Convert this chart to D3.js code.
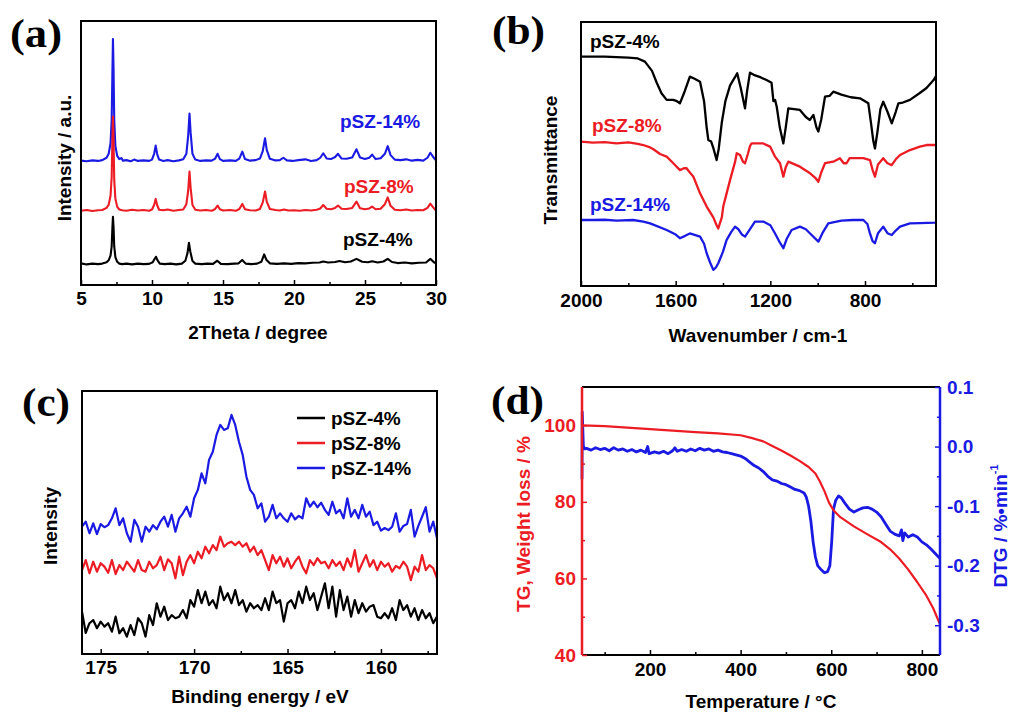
<!DOCTYPE html>
<html>
<head>
<meta charset="utf-8">
<script src="https://cdn.jsdelivr.net/npm/d3@7"></script>
<style>
body { margin: 0; background: #fff; }
</style>
</head>
<body>
<svg id="fig" width="1011" height="715"></svg>
<script>
// ---------- (a) XRD, relative intensity per sample ----------
const xrdOffsets = [7.6, 27.8, 46.7];   // black, red, blue stacking
const xrdBlack = [[5,0.6],[5.4,0.2],[5.8,0.5],[6.2,0.3],[6.5,0.5],[6.8,1.0],[6.95,1.8],[7.08,3.5],[7.16,7],[7.21,14],[7.25,18.2],[7.29,14.5],[7.34,7],[7.42,3],[7.55,1.2],[7.7,0.5],[7.9,0.3],[8.2,0.5],[8.6,0.2],[9.0,0.5],[9.4,0.3],[9.8,0.4],[10.05,1],[10.2,2.4],[10.28,3.1],[10.38,1.8],[10.55,0.5],[10.9,0.3],[11.3,0.5],[11.7,0.2],[12.1,0.5],[12.35,1.6],[12.5,4.5],[12.6,8.4],[12.7,5],[12.85,1.5],[13.05,0.5],[13.5,0.3],[13.9,0.5],[14.3,0.4],[14.6,1.6],[14.85,0.4],[15.3,0.3],[15.8,0.5],[16.1,0.6],[16.35,1.9],[16.6,0.5],[17.0,0.3],[17.4,0.5],[17.7,1.2],[17.9,4.0],[18.05,2],[18.3,0.6],[18.8,0.4],[19.3,0.6],[19.8,0.4],[20.3,0.7],[20.8,0.6],[21.3,0.8],[21.8,0.9],[22.06,1.3],[22.4,0.9],[22.9,1.1],[23.2,1.5],[23.6,1.0],[24.0,1.3],[24.4,2.3],[24.8,1.2],[25.2,1.0],[25.5,1.4],[25.9,0.9],[26.3,1.3],[26.6,2.3],[26.9,1.1],[27.3,0.7],[27.8,0.9],[28.3,0.6],[28.8,0.8],[29.3,0.9],[29.6,2.3],[29.85,1.0],[30.0,0.6]];
const xrdRed = [[5,0.3],[5.4,0.6],[5.8,0.2],[6.2,0.5],[6.5,0.6],[6.8,1.4],[6.95,2.6],[7.08,6],[7.16,13],[7.21,27],[7.25,36],[7.29,28],[7.34,12],[7.42,5],[7.55,1.8],[7.7,0.8],[7.9,0.5],[8.2,0.3],[8.6,0.7],[9.0,0.4],[9.4,0.6],[9.8,0.3],[10.0,0.8],[10.15,2.5],[10.26,4.8],[10.36,2.5],[10.5,0.7],[10.8,0.5],[11.1,0.8],[11.5,0.3],[11.9,0.6],[12.2,0.8],[12.42,2.8],[12.55,8],[12.64,15.2],[12.72,9],[12.85,2.5],[13.05,0.7],[13.4,0.4],[13.8,0.6],[14.2,0.3],[14.45,1],[14.62,2.3],[14.78,0.9],[15.0,0.4],[15.5,0.6],[15.9,0.3],[16.15,1],[16.36,2.9],[16.55,0.9],[16.9,0.5],[17.3,0.4],[17.6,1],[17.8,3.5],[17.96,7.6],[18.08,3.8],[18.3,1],[18.7,0.6],[19.0,0.4],[19.3,0.8],[19.6,0.4],[20.0,0.5],[20.4,0.3],[20.8,0.6],[21.2,0.4],[21.6,0.7],[21.85,1.2],[22.06,2.5],[22.3,1.1],[22.6,0.9],[22.9,1.4],[23.1,2.3],[23.35,1.1],[23.7,1.0],[24.1,1.4],[24.4,3.8],[24.65,1.3],[25.0,0.9],[25.3,1.2],[25.5,1.9],[25.75,0.9],[26.1,1.1],[26.4,2.8],[26.6,5.4],[26.8,2.2],[27.1,0.7],[27.5,0.5],[27.9,0.8],[28.3,0.4],[28.7,0.6],[29.1,0.5],[29.4,1.4],[29.6,3.0],[29.8,1.6],[30.0,0.4]];
const xrdBlue = [[5,0.4],[5.4,0.2],[5.8,0.5],[6.2,0.3],[6.5,0.6],[6.8,1.5],[6.95,3],[7.08,7],[7.16,16],[7.21,33],[7.25,46.5],[7.29,36],[7.34,16],[7.42,6],[7.55,2.2],[7.7,1],[7.85,1.4],[7.95,0.4],[8.2,0.6],[8.5,0.2],[8.75,0.8],[9.0,0.3],[9.4,0.5],[9.8,0.3],[10.0,0.8],[10.15,3],[10.26,6.1],[10.36,3],[10.5,0.8],[10.8,0.3],[11.1,0.6],[11.5,0.2],[11.9,0.5],[12.2,0.9],[12.42,3],[12.55,10],[12.64,18.2],[12.72,11],[12.85,3],[13.05,0.8],[13.4,0.3],[13.8,0.5],[14.2,0.4],[14.45,1.2],[14.62,3.0],[14.78,1],[15.0,0.3],[15.5,0.5],[15.9,0.3],[16.15,1.2],[16.36,3.8],[16.55,1],[16.9,0.4],[17.3,0.6],[17.6,1.2],[17.8,4],[17.96,8.9],[18.08,4.5],[18.3,1.1],[18.7,0.5],[19.0,0.6],[19.25,1.5],[19.5,0.5],[19.9,0.3],[20.3,0.6],[20.8,0.9],[21.2,0.3],[21.6,0.6],[21.85,1.5],[22.06,3.2],[22.3,1.2],[22.6,1.0],[22.9,1.8],[23.1,3.0],[23.35,1.2],[23.7,1.1],[24.1,1.6],[24.4,4.7],[24.65,1.6],[25.0,1.0],[25.3,1.5],[25.5,2.7],[25.75,1.0],[26.1,1.3],[26.4,3],[26.6,5.9],[26.8,2.5],[27.1,0.8],[27.5,0.6],[27.9,0.9],[28.3,0.4],[28.7,0.7],[29.1,0.4],[29.4,1.5],[29.6,3.4],[29.8,1.8],[30.0,0.5]];
const xrdTicks = [5, 10, 15, 20, 25, 30];
const xrdMinor = [7.5, 12.5, 17.5, 22.5, 27.5];

// ---------- (b) FTIR, [wavenumber, transmittance] ----------
const irBlack = [[2000,86.9],[1900,86.9],[1800,86.5],[1760,86.2],[1730,85.0],[1700,81.5],[1680,77],[1660,73],[1638,70.5],[1610,70.5],[1595,70.0],[1582,69.2],[1565,73],[1540,79.3],[1520,78.5],[1497,77.4],[1480,70],[1469,60],[1462,55.3],[1450,54.7],[1440,52],[1427,47.7],[1418,52],[1405,62],[1390,70],[1370,76],[1350,79],[1340,80.6],[1325,75],[1307,67.3],[1298,74],[1286,80.8],[1270,80],[1240,79],[1216,78],[1195,77],[1187,70],[1180,70.5],[1173,67.9],[1160,60],[1145,54],[1135,60],[1124,67.3],[1100,67],[1075,66.7],[1050,64],[1033,62.9],[1018,64.8],[1005,60],[997,58.5],[985,63],[969,71.7],[950,72],[934,73.6],[900,72.5],[860,71.5],[821,71.1],[786,69.2],[775,62],[765,55],[758,52.1],[748,58],[735,67],[723,69.8],[705,66],[687,61.6],[670,66],[659,69.2],[640,69.5],[610,70.5],[570,73],[540,75],[510,78],[500,79.5]];
const irRed = [[2000,54.7],[1950,54.3],[1900,54.5],[1850,54.0],[1800,54.4],[1760,53.8],[1737,53.4],[1708,52.5],[1694,51.8],[1666,50],[1638,49.0],[1610,46.5],[1582,43.9],[1565,44.6],[1554,44.6],[1540,43],[1525,41.4],[1497,35.1],[1469,30.1],[1441,26],[1427,23],[1420,21.8],[1405,26],[1399,30.1],[1385,35],[1370,40.2],[1349,47],[1342,50.3],[1328,49.6],[1315,47],[1307,46.5],[1295,50],[1286,53],[1279,54.0],[1230,54.0],[1201,52.8],[1180,49.0],[1159,46.5],[1145,41.4],[1135,45],[1124,47.1],[1075,45.2],[1032,42.7],[1010,41],[997,39.5],[985,43],[969,46.5],[934,47.1],[906,48.4],[890,46.5],[878,46.5],[865,48.4],[849,48.4],[807,48.4],[779,47.7],[768,44],[758,41.4],[745,46],[723,48.4],[705,46.5],[687,45.8],[670,48],[652,49.6],[610,51.5],[568,52.8],[540,53.4],[504,53.4],[500,53.6]];
const irBlue = [[2000,25.0],[1950,25],[1900,25.1],[1850,24.8],[1780,25.0],[1737,24.4],[1708,23.7],[1638,21.2],[1600,19.5],[1582,18.1],[1560,19.0],[1540,19.9],[1497,18.7],[1480,16],[1469,12.4],[1455,9],[1441,6.1],[1430,7],[1420,8.6],[1400,13],[1385,17.4],[1365,20.5],[1349,22.5],[1335,21.5],[1320,19.5],[1307,18.7],[1290,21],[1265,24.4],[1230,24.4],[1200,23],[1180,19.9],[1160,16.5],[1145,14.3],[1130,18],[1110,21.2],[1075,22.5],[1050,21.5],[1032,19.9],[997,16.8],[980,20],[955,23.7],[900,24.8],[850,25],[807,25.0],[790,23.5],[779,19.9],[768,17],[758,16.2],[745,20],[723,22.5],[705,20],[687,19.3],[670,21],[652,22.5],[610,23.7],[568,23.8],[504,24.0],[500,24.1]];
const irTicks = [2000, 1600, 1200, 800];
const irMinor = [1800, 1400, 1000, 600];

// ---------- (c) XPS S 2p, 0.2 eV steps from 176 eV ----------
const xpsStart = 176, xpsStep = 0.2;
const xpsBlack = [16.1,8.0,11.7,12.9,9.8,12.3,10.4,11.7,8.5,14.2, 7.9,9.8,6.6,11.0,7.2,13.6,11.7,6.6,14.8,11.0, 19.3,14.2,18.0,12.9,14.8,13.6,14.2,16.7,13.6,20.5, 18.0,24.3,19.3,23.7,18.6,20.5,17.4,25.6,20.5,23.1, 19.3,24.3,18.6,20.5,16.1,19.3,17.4,18.6,16.7,21.2, 16.7,23.7,19.3,20.5,12.3,19.3,20.5,17.4,23.7,19.3, 25.6,20.5,23.1,16.7,21.8,26.9,17.4,25.6,14.2,24.3, 16.7,21.8,14.2,20.5,15.5,19.3,16.1,18.0,18.6,14.2, 13.6,15.5,13.6,17.4,12.9,20.5,16.7,18.6,14.2,17.4, 12.9,16.7,13.6,15.5,11.7,14.2];
const xpsRed = [31.9,35.7,30.7,35.1,31.3,34.5,33.2,30.9,35.7,30.4, 33.8,31.9,35.1,33.2,31.3,35.7,31.9,31.3,35.1,32.6, 33.8,37.0,31.9,36.0,34.5,28.8,37.0,30.0,35.1,37.6, 34.5,38.9,36.4,40.8,38.3,41.4,39.5,44.6,40.8,42.1, 42.7,41.4,42.7,40.8,42.1,38.9,40.8,37.6,39.5,35.7, 31.9,37.6,34.5,37.0,33.2,36.4,32.6,35.1,37.0,33.2, 30.7,35.7,33.8,36.4,34.5,35.1,32.6,35.7,33.5,35.1, 31.9,36.4,33.2,39.5,31.3,34.5,37.6,33.2,35.7,31.9, 35.1,33.2,34.5,31.3,33.5,32.6,35.1,33.2,28.1,33.2, 31.3,37.6,31.9,33.8,32.6,28.8];
const xpsBlue = [48.4,50.3,45.9,49.7,45.6,49.4,48.2,49.0,51.6,55.4, 49.0,51.6,45.9,42.7,51.0,48.4,42.7,48.4,46.5,49.0, 47.4,50.3,52.2,48.4,52.9,46.5,51.6,53.5,56.0,52.2, 59.2,62.4,68.7,64.9,73.8,76.9,83.3,87.1,85.2,85.8, 90.9,87.1,80.7,75.7,67.4,62.4,60.5,55.4,57.3,50.3, 52.2,56.7,51.6,53.5,51.6,50.3,53.5,51.2,52.5,51.6, 59.2,56.0,57.9,55.8,57.5,54.8,52.9,57.9,53.5,54.8, 51.6,59.2,52.2,54.8,51.6,56.7,52.2,54.1,49.0,50.3, 46.9,47.9,47.1,48.4,53.5,46.5,48.7,49.4,54.8,44.6, 48.7,52.2,55.8,46.5,50.3,44.0];
const xpsTicks = [175, 170, 165, 160];
const xpsMinor = [172.5, 167.5, 162.5, 157.5];

// ---------- (d) TG / DTG, [temperature, value] ----------
const tgData = [[50,100],[100,99.8],[150,99.4],[200,99.0],[250,98.6],[300,98.2],[350,97.9],[400,97.4],[430,96.5],[450,95.8],[470,94.6],[490,93.4],[510,92.1],[530,90.7],[550,89.1],[565,87.4],[575,85.3],[585,82.8],[595,79.8],[605,77.8],[620,76.0],[650,73.6],[680,71.5],[710,69.5],[730,67.6],[750,65.2],[770,62.3],[790,59.0],[810,55.5],[825,52.2],[840,48.0]];
const dtgData = [[50,-0.055],[50.5,0.058],[53,0.001],[56,-0.004],[60,-0.003],[70,-0.006],[80,-0.002],[90,-0.005],[100,-0.003],[110,-0.007],[120,-0.002],[130,-0.006],[140,-0.004],[150,-0.008],[160,-0.005],[170,-0.009],[180,-0.006],[190,-0.01],[195,0.0],[198,-0.012],[210,-0.009],[220,-0.011],[230,-0.008],[240,-0.012],[250,-0.007],[255,-0.002],[260,-0.008],[270,-0.005],[280,-0.008],[290,-0.004],[300,-0.007],[310,-0.003],[320,-0.006],[330,-0.004],[340,-0.008],[350,-0.006],[360,-0.009],[370,-0.01],[380,-0.012],[390,-0.014],[400,-0.016],[410,-0.02],[420,-0.026],[430,-0.032],[440,-0.036],[450,-0.042],[460,-0.05],[470,-0.056],[480,-0.058],[490,-0.062],[500,-0.064],[510,-0.068],[520,-0.072],[530,-0.074],[540,-0.078],[545,-0.085],[550,-0.1],[555,-0.125],[560,-0.16],[565,-0.185],[570,-0.2],[578,-0.207],[585,-0.212],[592,-0.21],[597,-0.2],[601,-0.16],[605,-0.105],[610,-0.09],[616,-0.083],[622,-0.086],[630,-0.095],[640,-0.105],[650,-0.11],[660,-0.106],[670,-0.103],[680,-0.102],[690,-0.105],[700,-0.11],[710,-0.118],[720,-0.13],[730,-0.142],[740,-0.147],[750,-0.15],[755,-0.14],[758,-0.158],[762,-0.145],[770,-0.152],[780,-0.148],[790,-0.152],[800,-0.16],[810,-0.165],[820,-0.172],[830,-0.18],[840,-0.188]];
const tgTicks = [40, 60, 80, 100], tgMinor = [50, 70, 90];
const dtgTicks = [0.1, 0.0, -0.1, -0.2, -0.3], dtgMinor = [0.05, -0.05, -0.15, -0.25];
const tTicks = [200, 400, 600, 800], tMinor = [100, 300, 500, 700];

const sampleNames = ["pSZ-4%", "pSZ-8%", "pSZ-14%"];

// ---------- drawing ----------
const BLACK = "#000", RED = "#ec1c24", BLUE = "#1a1ae2";
const FONT = "'Liberation Sans', Arial, sans-serif";
const svg = d3.select("#fig");

function styleAxis(g, color) {
  g.attr("font-family", FONT).attr("font-size", 19).attr("font-weight", "bold");
  g.select(".domain").remove();
  g.selectAll("line").attr("stroke", color).attr("stroke-width", 1.5);
  g.selectAll("text").attr("fill", color);
}

function bottomAxis(x, y0, major, minor, fmt, pad) {
  const g = svg.append("g").attr("transform", `translate(0,${y0})`)
    .call(d3.axisBottom(x).tickValues(major).tickSizeInner(-5).tickSizeOuter(0).tickPadding(pad).tickFormat(fmt));
  styleAxis(g, BLACK);
  const m = svg.append("g").attr("transform", `translate(0,${y0})`)
    .call(d3.axisBottom(x).tickValues(minor).tickSizeInner(-3).tickSizeOuter(0).tickFormat(""));
  styleAxis(m, BLACK);
}

function frame(x0, y0, x1, y1) {
  svg.append("rect").attr("x", x0).attr("y", y0).attr("width", x1 - x0).attr("height", y1 - y0)
    .attr("fill", "none").attr("stroke", BLACK).attr("stroke-width", 2);
}

function label(txt, x, y, color, opts = {}) {
  return svg.append("text").attr("x", x).attr("y", y).attr("fill", color)
    .attr("font-family", FONT).attr("font-weight", "bold").attr("font-size", opts.size || 19)
    .attr("text-anchor", opts.anchor || "start").text(txt);
}

function yTitle(txt, x, y, color) {
  return svg.append("text").attr("transform", `translate(${x},${y}) rotate(-90)`)
    .attr("fill", color).attr("font-family", FONT).attr("font-weight", "bold")
    .attr("font-size", 19).attr("text-anchor", "middle").text(txt);
}

function panelTag(txt, x, y, w) {
  svg.append("text").attr("x", x).attr("y", y)
    .attr("font-family", "'Liberation Serif', 'Times New Roman', serif")
    .attr("font-weight", "bold").attr("font-size", 40)
    .attr("textLength", w).attr("lengthAdjust", "spacingAndGlyphs").text(txt);
}

function drawLine(data, x, y, color, width, off = 0) {
  svg.append("path").datum(data)
    .attr("fill", "none").attr("stroke", color).attr("stroke-width", width)
    .attr("stroke-linejoin", "round")
    .attr("d", d3.line().x(d => x(d[0])).y(d => y(d[1] + off)));
}

const fmtInt = d3.format("d");

// (a)
{
  const x = d3.scaleLinear().domain([5, 30]).range([81, 436]);
  const y = d3.scaleLinear().domain([0, 100]).range([285, 21]);
  [[xrdBlue, BLUE, 2], [xrdRed, RED, 1], [xrdBlack, BLACK, 0]].forEach(([d, c, i]) =>
    drawLine(d, x, y, c, 2.1, xrdOffsets[i]));
  frame(81, 21, 436, 285);
  bottomAxis(x, 285, xrdTicks, xrdMinor, fmtInt, 7);
  label("2Theta / degree", 258, 339, BLACK, { anchor: "middle" });
  yTitle("Intensity / a.u.", 71, 158, BLACK);
  label(sampleNames[2], 340, 128, BLUE);
  label(sampleNames[1], 344, 193, RED);
  label(sampleNames[0], 343, 246, BLACK);
  panelTag("(a)", 10, 47, 52);
}

// (b)
{
  const x = d3.scaleLinear().domain([2000, 500]).range([581, 936]);
  const y = d3.scaleLinear().domain([0, 100]).range([286, 22]);
  drawLine(irBlack, x, y, BLACK, 2.3);
  drawLine(irRed, x, y, RED, 2.3);
  drawLine(irBlue, x, y, BLUE, 2.3);
  frame(581, 22, 936, 286);
  bottomAxis(x, 286, irTicks, irMinor, fmtInt, 8);
  label("Wavenumber / cm-1", 758, 342, BLACK, { anchor: "middle" });
  yTitle("Transmittance", 557, 160, BLACK);
  label(sampleNames[0], 590, 48, BLACK);
  label(sampleNames[1], 592, 132, RED);
  label(sampleNames[2], 590, 211, BLUE);
  panelTag("(b)", 492, 44, 53);
}

// (c)
{
  const x = d3.scaleLinear().domain([176, 157]).range([82, 437]);
  const y = d3.scaleLinear().domain([0, 100]).range([654, 391]);
  const toPts = arr => arr.map((v, i) => [xpsStart - i * xpsStep, v]);
  drawLine(toPts(xpsBlack), x, y, BLACK, 2.2);
  drawLine(toPts(xpsRed), x, y, RED, 2.2);
  drawLine(toPts(xpsBlue), x, y, BLUE, 2.2);
  frame(82, 391, 437, 654);
  bottomAxis(x, 654, xpsTicks, xpsMinor, fmtInt, 7);
  label("Binding energy / eV", 260, 703, BLACK, { anchor: "middle" });
  yTitle("Intensity", 57, 526, BLACK);
  [BLACK, RED, BLUE].forEach((c, i) => {
    const ly = 418 + i * 25;
    svg.append("line").attr("x1", 297).attr("x2", 325).attr("y1", ly).attr("y2", ly)
      .attr("stroke", c).attr("stroke-width", 2.5);
    label(sampleNames[i], 331, ly + 7, BLACK);
  });
  panelTag("(c)", 22, 416, 48);
}

// (d)
{
  const x0 = 582, x1 = 940, top = 387, bot = 655;
  const x = d3.scaleLinear().domain([50, 840]).range([x0, x1]);
  const yL = d3.scaleLinear().domain([40, 110]).range([bot, top]);
  const yR = d3.scaleLinear().domain([-0.35, 0.1]).range([bot, top]);
  drawLine(dtgData, x, yR, BLUE, 2.8);
  drawLine(tgData, x, yL, RED, 2.2);

  svg.append("line").attr("x1", x0).attr("x2", x1).attr("y1", top).attr("y2", top).attr("stroke", BLACK).attr("stroke-width", 2);
  svg.append("line").attr("x1", x0).attr("x2", x1).attr("y1", bot).attr("y2", bot).attr("stroke", BLACK).attr("stroke-width", 2);
  svg.append("line").attr("x1", x0).attr("x2", x0).attr("y1", top).attr("y2", bot).attr("stroke", RED).attr("stroke-width", 2.5);
  svg.append("line").attr("x1", x1).attr("x2", x1).attr("y1", top).attr("y2", bot).attr("stroke", BLUE).attr("stroke-width", 2.5);

  bottomAxis(x, bot, tTicks, tMinor, fmtInt, 8);

  const gl = svg.append("g").attr("transform", `translate(${x0},0)`)
    .call(d3.axisLeft(yL).tickValues(tgTicks).tickSizeInner(-5).tickSizeOuter(0).tickPadding(6).tickFormat(fmtInt));
  styleAxis(gl, RED);
  const glm = svg.append("g").attr("transform", `translate(${x0},0)`)
    .call(d3.axisLeft(yL).tickValues(tgMinor).tickSizeInner(-3).tickSizeOuter(0).tickFormat(""));
  styleAxis(glm, RED);

  const gr = svg.append("g").attr("transform", `translate(${x1},0)`)
    .call(d3.axisRight(yR).tickValues(dtgTicks).tickSizeInner(-5).tickSizeOuter(0).tickPadding(7).tickFormat(d => d.toFixed(1)));
  styleAxis(gr, BLUE);
  const grm = svg.append("g").attr("transform", `translate(${x1},0)`)
    .call(d3.axisRight(yR).tickValues(dtgMinor).tickSizeInner(-3).tickSizeOuter(0).tickFormat(""));
  styleAxis(grm, BLUE);

  label("Temperature / \u00B0C", 761, 708, BLACK, { anchor: "middle" });
  yTitle("TG, Weight loss / %", 530, 524, RED);
  const t = yTitle("DTG / %\u2022min", 1007, 526, BLUE);
  t.append("tspan").attr("font-size", 11).attr("dy", -9).text("-1");
  panelTag("(d)", 491, 414, 53);
}
</script>
</body>
</html>
